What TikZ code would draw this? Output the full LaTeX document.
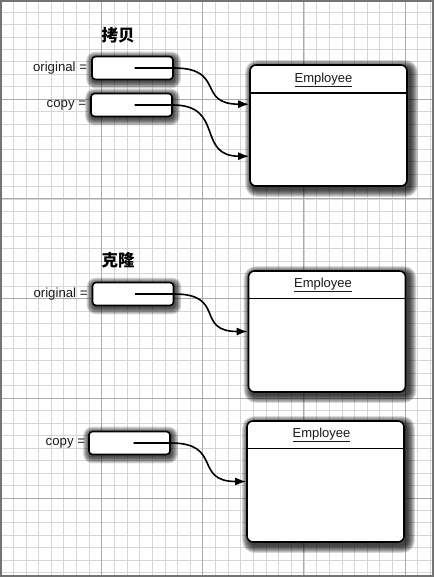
\documentclass[tikz,border=0pt]{standalone}
\usepackage{fontspec}
\setmainfont{Liberation Sans}
\newfontfamily\cjkfont{Noto Sans CJK SC}
\usetikzlibrary{arrows.meta,calc}
\pgfdeclarelayer{gridlayer}
\pgfdeclarelayer{shadowlayer}
\pgfsetlayers{gridlayer,shadowlayer,main}
\newcommand\boxshadow[5]{% node, xoff, yoff, steps, radius
  \foreach \k in {0,...,#4}{%
    \pgfmathsetmacro\rr{#5+\k}%
    \fill[black, opacity=0.15, rounded corners=\rr pt]
      ([shift={(-\k+#2,-\k+#3)}]#1.north west) rectangle ([shift={(\k+#2,\k+#3)}]#1.south east);
  }}
\tikzset{
  smallbox/.style={draw=black, line width=1.6pt, fill=white, rounded corners=3.5pt,
    minimum width=81pt, minimum height=23pt, inner sep=0pt},
  empbox/.style={draw=black, line width=1.6pt, fill=white, rounded corners=6pt,
    minimum width=157pt, minimum height=121pt, inner sep=0pt},
  lbl/.style={font=\fontsize{13.2}{15}\selectfont, text=black!90, inner sep=0pt, anchor=east},
  hdrtext/.style={font=\fontsize{13}{15}\selectfont, text=black!90, inner sep=0pt},
  titletext/.style={font=\cjkfont\bfseries\fontsize{16.5}{18}\selectfont, inner sep=0pt},
  conn/.style={line width=1.6pt, -{Latex[length=11pt,width=8pt]}},
  hdr/.style={line width=1.4pt},
  minorline/.style={black!16, line width=0.7pt},
  majorline/.style={black!33, line width=0.9pt},
}
\begin{document}
\begin{tikzpicture}[x=1pt,y=-1pt]
\useasboundingbox (0,0) rectangle (434,577);
\begin{pgfonlayer}{gridlayer}
  \fill[white] (0,0) rectangle (434,577);
  \foreach \k in {0,...,35} \draw[minorline] ({0.6+12.64*\k},0) -- ++(0,577);
  \foreach \k in {0,...,46} \draw[minorline] (0,{-0.5+12.46*\k}) -- ++(434,0);
  \foreach \k in {1,...,4} \draw[majorline] ({0.6+101.1*\k},0) -- ++(0,577);
  \foreach \k in {1,...,5} \draw[majorline] (0,{-0.5+99.7*\k}) -- ++(434,0);
  \draw[black!55, line width=2pt] (1,1) rectangle (433,576);
\end{pgfonlayer}

% titles
\node[titletext] (t1) at (118,35) {拷贝};
\node[titletext] (t2) at (118,260) {克隆};

% small boxes
\node[smallbox] (o1) at (132.5,68) {};
\node[smallbox] (c1) at (131.5,105) {};
\node[smallbox] (o2) at (133,294) {};
\node[smallbox] (c2) at (129.5,443) {};

% labels
\node[lbl] (lo1) at ([xshift=-4pt]o1.west) {original =};
\node[lbl] (lc1) at ([xshift=-4pt]c1.west) {copy =};
\node[lbl] (lo2) at ([xshift=-4pt]o2.west) {original =};
\node[lbl] (lc2) at ([xshift=-3pt]c2.west) {copy =};

% employee boxes
\node[empbox] (e1) at (328.5,125.5) {};
\node[empbox] (e2) at (327,331.5) {};
\node[empbox] (e3) at (325.5,481.5) {};

\draw[hdr] ([yshift=-29pt]e1.north west) -- ([yshift=-29pt]e1.north east);
\draw[hdr] ([yshift=-28pt]e2.north west) -- ([yshift=-28pt]e2.north east);
\draw[hdr] ([yshift=-28pt]e3.north west) -- ([yshift=-28pt]e3.north east);

\node[hdrtext] (e1t) at ([xshift=-5pt,yshift=-16pt]e1.north) {\underline{Employee}};
\node[hdrtext] (e2t) at ([xshift=-4pt,yshift=-15pt]e2.north) {\underline{Employee}};
\node[hdrtext] (e3t) at ([xshift=-4pt,yshift=-15pt]e3.north) {\underline{Employee}};

% shadows
\begin{pgfonlayer}{shadowlayer}
  \boxshadow{o1}{1}{2}{6}{3}
  \boxshadow{c1}{1}{2}{6}{3}
  \boxshadow{o2}{1}{2}{6}{3}
  \boxshadow{c2}{1}{2}{6}{3}
  \boxshadow{e1}{3}{3}{7}{5}
  \boxshadow{e2}{3}{3}{7}{5}
  \boxshadow{e3}{3}{3}{7}{5}
\end{pgfonlayer}

% connectors
\coordinate (s1) at ([xshift=2pt]o1.center);
\coordinate (s2) at ([xshift=3pt]c1.center);
\coordinate (s3) at ([xshift=2pt]o2.center);
\coordinate (s4) at ([xshift=4pt]c2.center);
\draw[conn] (s1) -- (s1 -| o1.east) .. controls +(52,0) and +(-53,0) .. ([yshift=-40pt]e1.north west);
\draw[conn] (s2) -- (s2 -| c1.east) .. controls +(52,0) and +(-53,0) .. ([yshift=-92pt]e1.north west);
\draw[conn] (s3) -- (s3 -| o2.east) .. controls +(52,0) and +(-53,0) .. (e2.west);
\draw[conn] (s4) -- (s4 -| c2.east) .. controls +(52,0) and +(-53,0) .. (e3.west);
\end{tikzpicture}
\end{document}
